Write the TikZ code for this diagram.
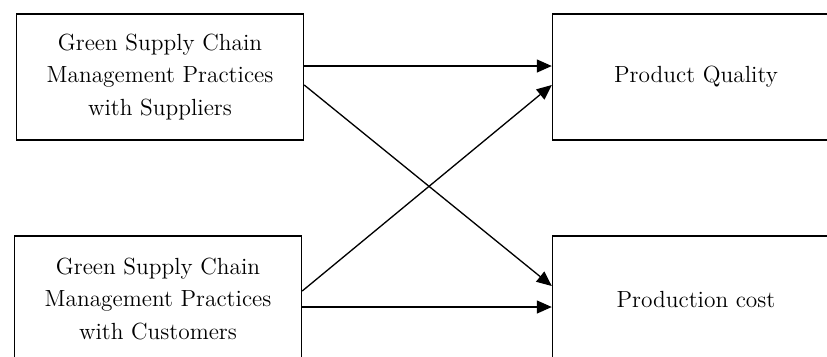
\documentclass[tikz,border=0pt]{standalone}
\usepackage{tikz}
\usetikzlibrary{arrows.meta}

\begin{document}
\begin{tikzpicture}[x=0.02cm, y=-0.02cm, >={Triangle[length=0.3cm,width=0.26cm]},
  blk/.style={draw=black, line width=0.85pt, minimum width=5.74cm, minimum height=2.52cm,
              align=center, inner sep=0pt, font=\fontsize{13.3}{18.7}\selectfont},
  link/.style={->, line width=0.75pt}]
  \useasboundingbox (0,0) rectangle (827,356);
  \clip (0,0) rectangle (827,356);
  \node[blk] (sup) at (160,77) {Green Supply Chain\\Management Practices\\with Suppliers};
  \node[blk] (cus) at (158,299) {Green Supply Chain\\Management Practices\\with Customers};
  \node[blk] (qual) at (696,77) {Product Quality};
  \node[blk] (cost) at (696,299) {Production cost};
  \draw[link] ([yshift=0.22cm]sup.east) -- ([yshift=0.22cm]qual.west);
  \draw[link] ([yshift=-0.16cm]sup.east) -- ([yshift=0.26cm]cost.west);
  \draw[link] ([yshift=0.16cm]cus.east) -- ([yshift=-0.16cm]qual.west);
  \draw[link] ([yshift=-0.16cm]cus.east) -- ([yshift=-0.16cm]cost.west);
\end{tikzpicture}
\end{document}
